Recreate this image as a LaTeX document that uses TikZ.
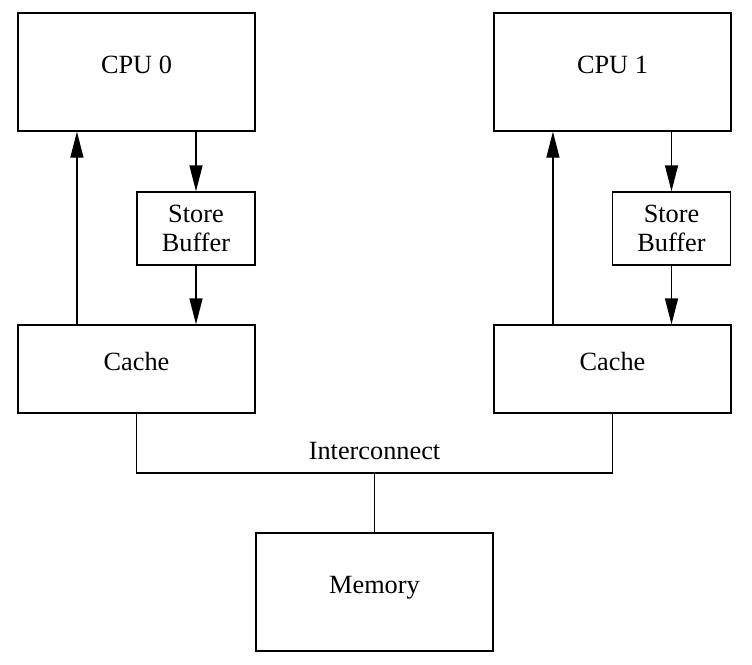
\documentclass[tikz,border=0pt]{standalone}
\usepackage{fontspec}
\setmainfont{Liberation Serif}
\usetikzlibrary{arrows.meta,calc}
\begin{document}
\begin{tikzpicture}[x=1pt,y=-1pt,
  every node/.style={font=\fontsize{26.3}{29}\selectfont},
  box/.style={draw,line width=1.3pt,inner sep=0pt,align=center},
  big/.style={box,minimum width=237pt,minimum height=118pt,text height=18pt,text depth=15pt},
  cachebox/.style={box,minimum width=237pt,minimum height=88pt,text height=18pt,text depth=15pt},
  sbbox/.style={box,minimum width=118pt,minimum height=73pt},
  conn/.style={line width=1.3pt},
  arr/.style={line width=1.3pt,-{Triangle[length=26pt,width=13pt]}}]
\useasboundingbox (0,0) rectangle (752,664);
\node[big] (cpu0) at (136.5,72) {CPU 0};
\node[big] (cpu1) at (612.5,72) {CPU 1};
\node[sbbox] (sb0) at (196,228.5) {Store\\Buffer};
\node[sbbox] (sb1) at (671.5,228.5) {Store\\Buffer};
\node[cachebox] (cache0) at (136.5,369) {Cache};
\node[cachebox] (cache1) at (612.5,369) {Cache};
\node[big] (mem) at (374.5,592) {Memory};
\coordinate (ic) at (374.5,473);
\node (iclabel) at (374.5,451) {Interconnect};
% left side
\draw[arr] ($(cache0.north west)!0.25!(cache0.north east)$) -- ($(cpu0.south west)!0.25!(cpu0.south east)$);
\draw[arr] (cpu0.south -| sb0) -- (sb0.north);
\draw[arr] (sb0.south) -- (sb0.south |- cache0.north);
% right side
\draw[arr] ($(cache1.north west)!0.25!(cache1.north east)$) -- ($(cpu1.south west)!0.25!(cpu1.south east)$);
\draw[arr] (cpu1.south -| sb1) -- (sb1.north);
\draw[arr] (sb1.south) -- (sb1.south |- cache1.north);
% interconnect
\draw[conn] (cache0.south) |- (ic) -| (cache1.south);
\draw[conn] (ic) -- (mem.north);
\end{tikzpicture}
\end{document}
